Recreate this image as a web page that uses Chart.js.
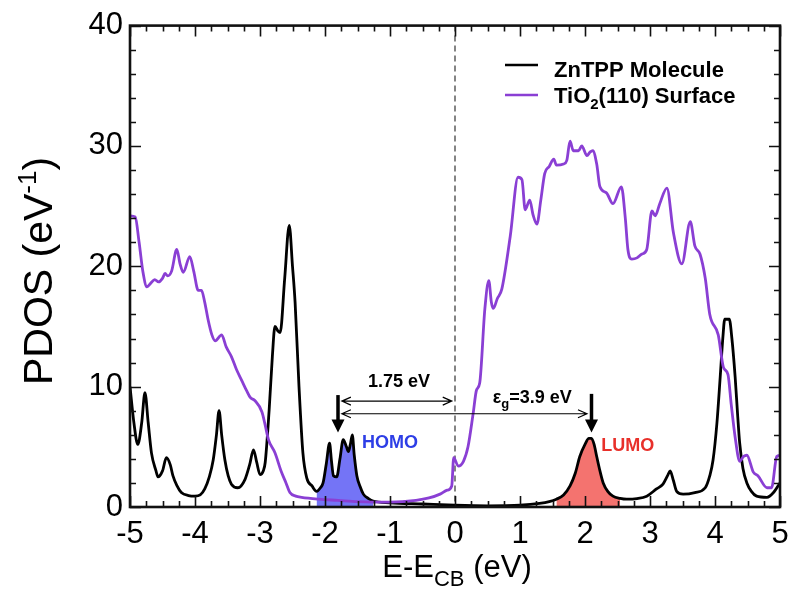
<!DOCTYPE html>
<html>
<head>
<meta charset="utf-8">
<script src="https://cdn.jsdelivr.net/npm/chart.js@4.4.1/dist/chart.umd.min.js"></script>
<style>
  html, body { margin: 0; padding: 0; background: #ffffff; }
  #wrap { width: 800px; height: 601px; }
</style>
</head>
<body>
<div id="wrap"><canvas id="pdosChart" width="800" height="601"></canvas></div>
<script>
// ZnTPP molecule PDOS (black)
const energyZn = [
  -5.0, -4.94, -4.88, -4.82, -4.77, -4.72, -4.67, -4.6, -4.57, -4.5, -4.44, -4.38, -4.34, -4.28, -4.21, -4.1, -4.0,
  -3.92, -3.85, -3.78, -3.72, -3.67, -3.63, -3.59, -3.54, -3.49, -3.44, -3.34, -3.23, -3.16, -3.1, -3.05, -3.0,
  -2.95, -2.92, -2.86, -2.81, -2.77, -2.72, -2.69, -2.62, -2.55, -2.5, -2.46, -2.4, -2.34, -2.28, -2.2, -2.13,
  -2.07, -2.03, -1.98, -1.93, -1.9, -1.87, -1.82, -1.77, -1.72, -1.67, -1.64, -1.61, -1.58, -1.55, -1.51, -1.46,
  -1.41, -1.33, -1.26, -1.0, -0.5, 0.0, 0.5, 1.0, 1.3, 1.45, 1.56, 1.67, 1.77, 1.85, 1.92, 2.0, 2.06, 2.1, 2.14,
  2.18, 2.23, 2.28, 2.35, 2.43, 2.54, 2.64, 2.8, 2.95, 3.1, 3.2, 3.27, 3.31, 3.36, 3.41, 3.51, 3.69, 3.85, 3.92,
  3.97, 4.03, 4.08, 4.12, 4.15, 4.22, 4.26, 4.31, 4.35, 4.38, 4.43, 4.49, 4.56, 4.64, 4.8, 4.9, 5.0
];
const pdosZn = [
  10.0, 7.0, 5.2, 7.0, 9.5, 7.0, 4.5, 3.0, 2.5, 3.0, 4.1, 3.5, 2.6, 1.8, 1.2, 0.95, 0.9,
  1.0, 1.5, 2.5, 3.9, 6.0, 8.0, 6.0, 3.9, 2.6, 1.9, 1.6, 2.3, 3.5, 4.75, 3.7, 2.7,
  3.0, 3.7, 8.0, 12.5, 15.0, 14.6, 14.5, 19.0, 23.4, 20.0, 17.0, 10.0, 4.5, 2.4, 1.75, 1.3,
  1.6, 2.0, 3.6, 5.3, 3.8, 2.6, 2.5, 4.0, 5.6, 5.0, 4.6, 5.2, 6.0, 4.3, 2.6, 1.7,
  1.07, 0.7, 0.5, 0.35, 0.25, 0.15, 0.1, 0.15, 0.3, 0.45, 0.65, 1.0, 1.75, 2.8, 4.2, 5.2, 5.7, 5.7, 5.2,
  4.2, 3.0, 2.0, 1.3, 0.9, 0.72, 0.65, 0.7, 0.9, 1.5, 1.9, 2.6, 3.0, 2.2, 1.3, 1.07, 1.2, 1.6, 2.6,
  3.9, 7.0, 10.8, 14.0, 15.6, 15.6, 14.0, 10.8, 7.5, 5.3, 3.2, 2.0, 1.3, 0.9, 0.8, 1.2, 2.0
];

// TiO2(110) surface PDOS (purple)
const energyTi = [
  -5.0, -4.92, -4.86, -4.8, -4.74, -4.68, -4.62, -4.56, -4.5, -4.46, -4.42, -4.36, -4.28, -4.23, -4.18, -4.08,
  -4.02, -3.95, -3.9, -3.85, -3.8, -3.74, -3.69, -3.59, -3.52, -3.44, -3.36, -3.28, -3.2, -3.15, -3.08, -2.97,
  -2.92, -2.87, -2.77, -2.67, -2.6, -2.54, -2.45, -2.36, -2.1, -1.8, -1.5, -1.0, -0.6, -0.4, -0.23, -0.12,
  -0.05, -0.02, 0.05, 0.13, 0.2, 0.28, 0.33, 0.38, 0.46, 0.52, 0.56, 0.59, 0.65, 0.72, 0.85, 0.97, 1.03,
  1.08, 1.15, 1.2, 1.26, 1.32, 1.38, 1.45, 1.52, 1.56, 1.67, 1.72, 1.77, 1.82, 1.9, 1.95, 2.03, 2.08, 2.12,
  2.18, 2.23, 2.33, 2.43, 2.56, 2.62, 2.66, 2.72, 2.8, 2.87, 2.95, 3.03, 3.08, 3.15, 3.26, 3.36, 3.49, 3.62,
  3.69, 3.77, 3.85, 3.92, 4.05, 4.13, 4.2, 4.25, 4.31, 4.38, 4.44, 4.49, 4.59, 4.66, 4.8, 4.87, 4.95, 5.0
];
const pdosTi = [
  24.2, 24.1, 22.0, 19.5, 18.3, 18.6, 18.9, 18.7, 19.0, 19.4, 19.2, 19.6, 21.4, 20.2, 19.5, 20.8,
  19.6, 18.0, 18.0, 17.0, 15.6, 14.3, 13.8, 14.3, 13.3, 12.5, 11.4, 10.5, 9.6, 9.1, 8.85, 7.9,
  6.8, 5.6, 4.5, 2.9, 2.0, 1.2, 0.9, 0.8, 0.65, 0.55, 0.45, 0.4, 0.55, 0.75, 1.07, 1.4,
  1.75, 4.1, 3.4, 3.8, 5.0, 7.8, 9.7, 10.3, 16.5, 18.8, 17.0, 16.5, 17.3, 18.1, 22.5, 27.4, 27.2,
  24.7, 25.5, 24.3, 23.5, 25.5, 27.7, 28.3, 28.9, 28.4, 28.5, 28.8, 30.4, 29.6, 29.6, 30.0, 29.2, 29.5, 29.6,
  28.5, 26.6, 26.1, 25.2, 26.6, 24.0, 21.4, 20.6, 20.7, 21.0, 21.4, 24.6, 24.2, 25.2, 26.5, 22.8, 20.2, 23.7,
  21.7, 21.0, 19.0, 16.0, 14.3, 11.6, 11.0, 8.5, 5.8, 3.8, 4.2, 4.3, 2.9, 2.6, 1.6, 1.6, 4.2, 4.3
];

const xTickValues = [-5, -4, -3, -2, -1, 0, 1, 2, 3, 4, 5];
const yTickValues = [0, 10, 20, 30, 40];
const homoRange = [-2.13, -1.26];
const lumoRange = [1.56, 2.54];

const seriesNames = ["ZnTPP Molecule", "TiO2(110) Surface"];
const ZN_COLOR = "#000000";
const TI_COLOR = "#8a3fd4";
const HOMO_FILL = "#7474f6";
const LUMO_FILL = "#f4736f";

const FONT = "'Liberation Sans', Arial, sans-serif";

function toPoints(xs, ys) {
  return xs.map((x, i) => ({ x, y: ys[i] }));
}

function inRange(points, range) {
  return points.filter((p) => p.x >= range[0] - 1e-9 && p.x <= range[1] + 1e-9);
}

const znPoints = toPoints(energyZn, pdosZn);
const tiPoints = toPoints(energyTi, pdosTi);

// text made of pieces, so sub/superscripts can be drawn
function drawRich(ctx, parts, x, y, align) {
  let total = 0;
  parts.forEach((p) => {
    ctx.font = `${p.weight || "normal"} ${p.size}px ${FONT}`;
    p.w = ctx.measureText(p.t).width;
    total += p.w;
  });
  let cx = align === "center" ? x - total / 2 : x;
  parts.forEach((p) => {
    ctx.font = `${p.weight || "normal"} ${p.size}px ${FONT}`;
    ctx.fillText(p.t, cx, y + (p.dy || 0));
    cx += p.w;
  });
}

function doubleArrow(ctx, x1, x2, y) {
  ctx.beginPath();
  ctx.moveTo(x1, y);
  ctx.lineTo(x2, y);
  ctx.moveTo(x1 + 9, y - 4);
  ctx.lineTo(x1, y);
  ctx.lineTo(x1 + 9, y + 4);
  ctx.moveTo(x2 - 9, y - 4);
  ctx.lineTo(x2, y);
  ctx.lineTo(x2 - 9, y + 4);
  ctx.stroke();
}

function downArrow(ctx, x, yTop, yTip) {
  ctx.lineWidth = 3.5;
  ctx.beginPath();
  ctx.moveTo(x, yTop);
  ctx.lineTo(x, yTip - 10);
  ctx.stroke();
  ctx.beginPath();
  ctx.moveTo(x - 6.5, yTip - 13);
  ctx.lineTo(x + 6.5, yTip - 13);
  ctx.lineTo(x, yTip);
  ctx.closePath();
  ctx.fill();
}

const decorations = {
  id: "decorations",
  beforeDatasetsDraw(chart) {
    const { ctx, chartArea: a, scales: { x } } = chart;
    const x0 = x.getPixelForValue(0);
    ctx.save();
    ctx.strokeStyle = "#333333";
    ctx.lineWidth = 1.2;
    ctx.setLineDash([6, 4]);
    ctx.beginPath();
    ctx.moveTo(x0, a.top);
    ctx.lineTo(x0, a.bottom);
    ctx.stroke();
    ctx.restore();
  },
  afterDatasetsDraw(chart) {
    const { ctx, chartArea: a, scales: { x, y } } = chart;
    ctx.save();

    // frame + inward ticks on all four sides
    ctx.strokeStyle = "#111111";
    ctx.lineWidth = 1.6;
    ctx.beginPath();
    for (let v = -5; v <= 5.001; v += 0.25) {
      const px = Math.round(x.getPixelForValue(v)) + 0.5;
      const len = Math.abs(v - Math.round(v)) < 1e-6 ? 11 : 6;
      ctx.moveTo(px, a.bottom);
      ctx.lineTo(px, a.bottom - len);
      ctx.moveTo(px, a.top);
      ctx.lineTo(px, a.top + len);
    }
    for (let v = 0; v <= 40.001; v += 2) {
      const py = Math.round(y.getPixelForValue(v)) + 0.5;
      const len = v % 10 === 0 ? 11 : 6;
      ctx.moveTo(a.left, py);
      ctx.lineTo(a.left + len, py);
      ctx.moveTo(a.right, py);
      ctx.lineTo(a.right - len, py);
    }
    ctx.stroke();
    ctx.lineWidth = 2.6;
    ctx.strokeRect(a.left, a.top, a.right - a.left, a.bottom - a.top);

    // gap arrows
    ctx.strokeStyle = "#000000";
    ctx.fillStyle = "#000000";
    ctx.lineWidth = 1.2;
    const xl = x.getPixelForValue(-1.74);
    doubleArrow(ctx, xl, x.getPixelForValue(-0.05), y.getPixelForValue(8.8));
    doubleArrow(ctx, xl, x.getPixelForValue(2.03), y.getPixelForValue(7.75));
    downArrow(ctx, x.getPixelForValue(-1.8), y.getPixelForValue(9.3), y.getPixelForValue(6.2));
    downArrow(ctx, x.getPixelForValue(2.1), y.getPixelForValue(9.4), y.getPixelForValue(6.2));

    ctx.textBaseline = "alphabetic";
    ctx.fillStyle = "#000000";
    drawRich(ctx, [{ t: "1.75 eV", size: 18, weight: "bold" }], x.getPixelForValue(-0.86), y.getPixelForValue(9.95), "center");
    drawRich(ctx, [
      { t: "\u03b5", size: 18, weight: "bold" },
      { t: "g", size: 13, weight: "bold", dy: 5 },
      { t: "=3.9 eV", size: 18, weight: "bold" }
    ], x.getPixelForValue(0.58), y.getPixelForValue(8.6), "left");

    ctx.fillStyle = "#2d3ee6";
    drawRich(ctx, [{ t: "HOMO", size: 18, weight: "bold" }], x.getPixelForValue(-1.43), y.getPixelForValue(4.9), "left");
    ctx.fillStyle = "#e8302a";
    drawRich(ctx, [{ t: "LUMO", size: 18, weight: "bold" }], x.getPixelForValue(2.25), y.getPixelForValue(4.65), "left");

    // legend
    ctx.lineWidth = 2.4;
    ctx.strokeStyle = ZN_COLOR;
    ctx.beginPath();
    ctx.moveTo(505, 65);
    ctx.lineTo(538, 65);
    ctx.stroke();
    ctx.strokeStyle = TI_COLOR;
    ctx.beginPath();
    ctx.moveTo(505, 95);
    ctx.lineTo(538, 95);
    ctx.stroke();
    ctx.fillStyle = "#000000";
    drawRich(ctx, [{ t: seriesNames[0], size: 22, weight: "bold" }], 554, 77, "left");
    drawRich(ctx, [
      { t: "TiO", size: 22, weight: "bold" },
      { t: "2", size: 15, weight: "bold", dy: 6 },
      { t: "(110) Surface", size: 22, weight: "bold" }
    ], 554, 103, "left");

    ctx.restore();
  },
  afterDraw(chart) {
    const { ctx } = chart;
    ctx.save();
    ctx.fillStyle = "#000000";
    ctx.textBaseline = "alphabetic";
    drawRich(ctx, [
      { t: "E-E", size: 31 },
      { t: "CB", size: 22, dy: 9 },
      { t: " (eV)", size: 31 }
    ], 457, 577, "center");

    ctx.translate(52, 271);
    ctx.rotate(-Math.PI / 2);
    drawRich(ctx, [
      { t: "PDOS (eV", size: 41 },
      { t: "-1", size: 26, dy: -16 },
      { t: ")", size: 41 }
    ], 0, 0, "center");
    ctx.restore();
  }
};

new Chart(document.getElementById("pdosChart"), {
  type: "line",
  data: {
    datasets: [
      {
        label: seriesNames[1],
        data: tiPoints,
        borderColor: TI_COLOR,
        borderWidth: 2.8,
        pointRadius: 0,
        cubicInterpolationMode: "monotone",
        fill: false,
        order: 1
      },
      {
        label: seriesNames[0],
        data: znPoints,
        borderColor: ZN_COLOR,
        borderWidth: 2.8,
        pointRadius: 0,
        cubicInterpolationMode: "monotone",
        fill: false,
        order: 2
      },
      {
        label: "HOMO",
        data: inRange(znPoints, homoRange),
        borderWidth: 0,
        borderColor: "rgba(0,0,0,0)",
        backgroundColor: HOMO_FILL,
        pointRadius: 0,
        cubicInterpolationMode: "monotone",
        fill: "origin",
        order: 3
      },
      {
        label: "LUMO",
        data: inRange(znPoints, lumoRange),
        borderWidth: 0,
        borderColor: "rgba(0,0,0,0)",
        backgroundColor: LUMO_FILL,
        pointRadius: 0,
        cubicInterpolationMode: "monotone",
        fill: "origin",
        order: 3
      }
    ]
  },
  options: {
    responsive: false,
    animation: false,
    devicePixelRatio: 1,
    layout: { padding: { top: 21, right: 20, left: 0, bottom: 0 } },
    plugins: {
      legend: { display: false },
      tooltip: { enabled: false }
    },
    scales: {
      x: {
        type: "linear",
        min: -5,
        max: 5,
        afterBuildTicks: (scale) => {
          scale.ticks = xTickValues.map((value) => ({ value }));
        },
        afterFit: (scale) => {
          scale.height = 94;
        },
        grid: { display: false, drawTicks: false },
        border: { display: false },
        ticks: {
          color: "#000000",
          padding: 9,
          maxRotation: 0,
          font: { family: FONT, size: 31 }
        }
      },
      y: {
        type: "linear",
        min: 0,
        max: 40,
        afterBuildTicks: (scale) => {
          scale.ticks = yTickValues.map((value) => ({ value }));
        },
        afterFit: (scale) => {
          scale.width = 130;
        },
        grid: { display: false, drawTicks: false },
        border: { display: false },
        ticks: {
          color: "#000000",
          padding: 7,
          font: { family: FONT, size: 31 }
        }
      }
    }
  },
  plugins: [decorations]
});
</script>
</body>
</html>
